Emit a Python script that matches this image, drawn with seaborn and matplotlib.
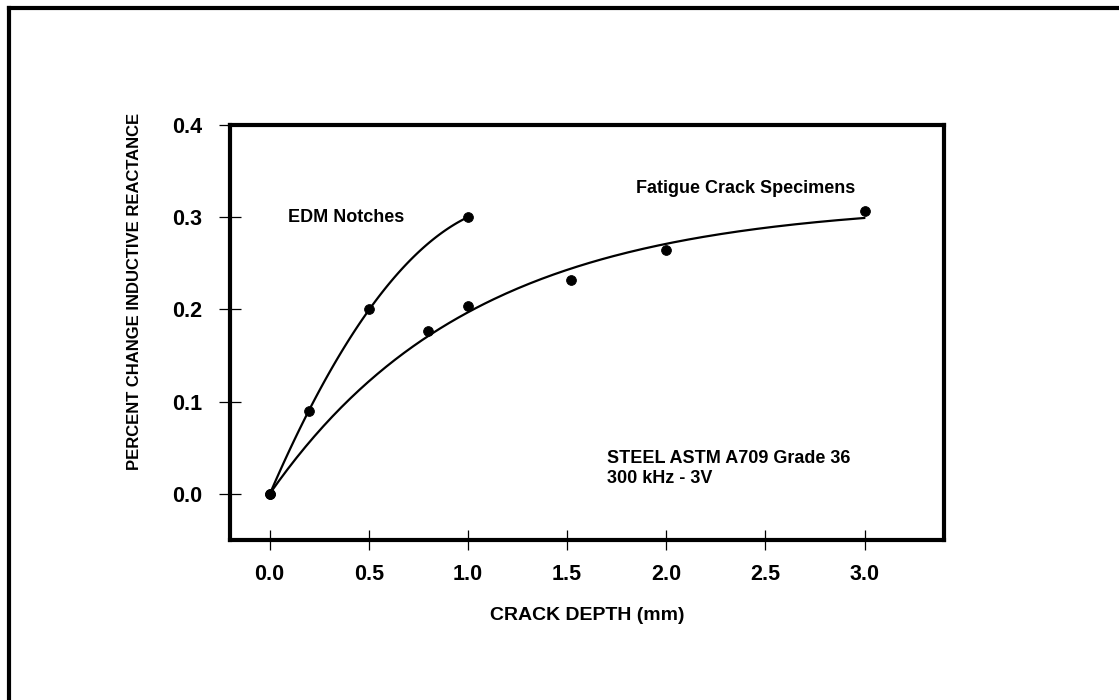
import numpy as np
import pandas as pd
import matplotlib
matplotlib.use("Agg")
import matplotlib.pyplot as plt
from matplotlib.lines import Line2D
from matplotlib import font_manager
import seaborn as sns

# Measured points
edm_depth = [0.0, 0.2, 0.5, 1.0]
edm_change = [0.0, 0.09, 0.20, 0.30]
fatigue_depth = [0.0, 0.8, 1.0, 1.52, 2.0, 3.0]
fatigue_change = [0.0, 0.177, 0.204, 0.232, 0.265, 0.307]

x_ticks = [0.0, 0.5, 1.0, 1.5, 2.0, 2.5, 3.0]
y_ticks = [0.0, 0.1, 0.2, 0.3, 0.4]

sns.set_theme(style="white")
plt.rcParams["font.family"] = ["Liberation Sans", "DejaVu Sans"]
plt.rcParams["font.weight"] = "bold"
plt.rcParams["text.color"] = "black"
plt.rcParams["axes.labelcolor"] = "black"
plt.rcParams["xtick.color"] = "black"
plt.rcParams["ytick.color"] = "black"

installed = {f.name for f in font_manager.fontManager.ttflist}
narrow = "Liberation Sans Narrow" if "Liberation Sans Narrow" in installed else "Liberation Sans"
ylab_size = 14 if narrow == "Liberation Sans Narrow" else 12

fig = plt.figure(figsize=(11.19, 7.0), dpi=100)
ax = fig.add_axes([0.2055, 0.2285, 0.638, 0.5929])

edm = pd.DataFrame({"depth": edm_depth, "change": edm_change})
fat = pd.DataFrame({"depth": fatigue_depth, "change": fatigue_change})

# EDM notches: quadratic fit over the measured range
sns.regplot(data=edm, x="depth", y="change", order=2, ci=None, truncate=True,
            scatter=False, ax=ax, line_kws=dict(color="black", lw=1.6))

# Fatigue cracks: saturating exponential y = a(1 - exp(-b x)) fitted by least squares
fx = np.asarray(fatigue_depth)
fy = np.asarray(fatigue_change)
best = None
for b in np.linspace(0.2, 3.0, 2801):
    g = 1.0 - np.exp(-b * fx)
    a = (g @ fy) / (g @ g)
    err = np.sum((a * g - fy) ** 2)
    if best is None or err < best[0]:
        best = (err, a, b)
_, a_fit, b_fit = best
xs = np.linspace(fx.min(), fx.max(), 200)
curve = pd.DataFrame({"depth": xs, "change": a_fit * (1.0 - np.exp(-b_fit * xs))})
sns.lineplot(data=curve, x="depth", y="change", ax=ax, color="black", lw=1.6)

sns.scatterplot(data=edm, x="depth", y="change", ax=ax, color="black", s=50,
                edgecolor="black", zorder=5)
sns.scatterplot(data=fat, x="depth", y="change", ax=ax, color="black", s=50,
                edgecolor="black", zorder=5)

ax.set_xlim(-0.2, 3.4)
ax.set_ylim(-0.05, 0.4)
ax.set_xticks(x_ticks)
ax.set_yticks(y_ticks)
ax.set_xticklabels([f"{v:.1f}" for v in x_ticks], fontsize=15.5, fontweight="bold")
ax.set_yticklabels([f"{v:.1f}" for v in y_ticks], fontsize=15.5, fontweight="bold")
ax.tick_params(axis="x", bottom=True, direction="inout", length=14, width=0.9,
               pad=10, color="black")
ax.tick_params(axis="y", left=True, direction="inout", length=16, width=0.9,
               pad=12, color="black")

for sp in ax.spines.values():
    sp.set_visible(True)
    sp.set_linewidth(3)
    sp.set_color("black")

ax.set_xlabel("CRACK DEPTH (mm)", fontsize=14, fontweight="bold", labelpad=16)
ax.set_ylabel("PERCENT CHANGE INDUCTIVE REACTANCE", fontsize=ylab_size,
              fontweight="bold", family=[narrow, "Liberation Sans"])
ax.yaxis.set_label_coords(-0.1235, 0.598)

ax.text(0.095, 0.30, "EDM Notches", fontsize=13, fontweight="bold",
        va="center", ha="left")
ax.text(1.85, 0.331, "Fatigue Crack Specimens", fontsize=13, fontweight="bold",
        va="center", ha="left")
ax.text(1.70, 0.0275, "STEEL ASTM A709 Grade 36\n300 kHz - 3V", fontsize=13,
        fontweight="bold", va="center", ha="left", linespacing=1.25)

# Outer frame (left and top edges)
fig.add_artist(Line2D([0.0080, 0.0080], [0.0, 0.989], transform=fig.transFigure,
                      color="black", lw=3, solid_capstyle="projecting"))
fig.add_artist(Line2D([0.0080, 1.0], [0.989, 0.989], transform=fig.transFigure,
                      color="black", lw=3, solid_capstyle="projecting"))

fig.savefig("out.png", dpi=100, facecolor="white")
